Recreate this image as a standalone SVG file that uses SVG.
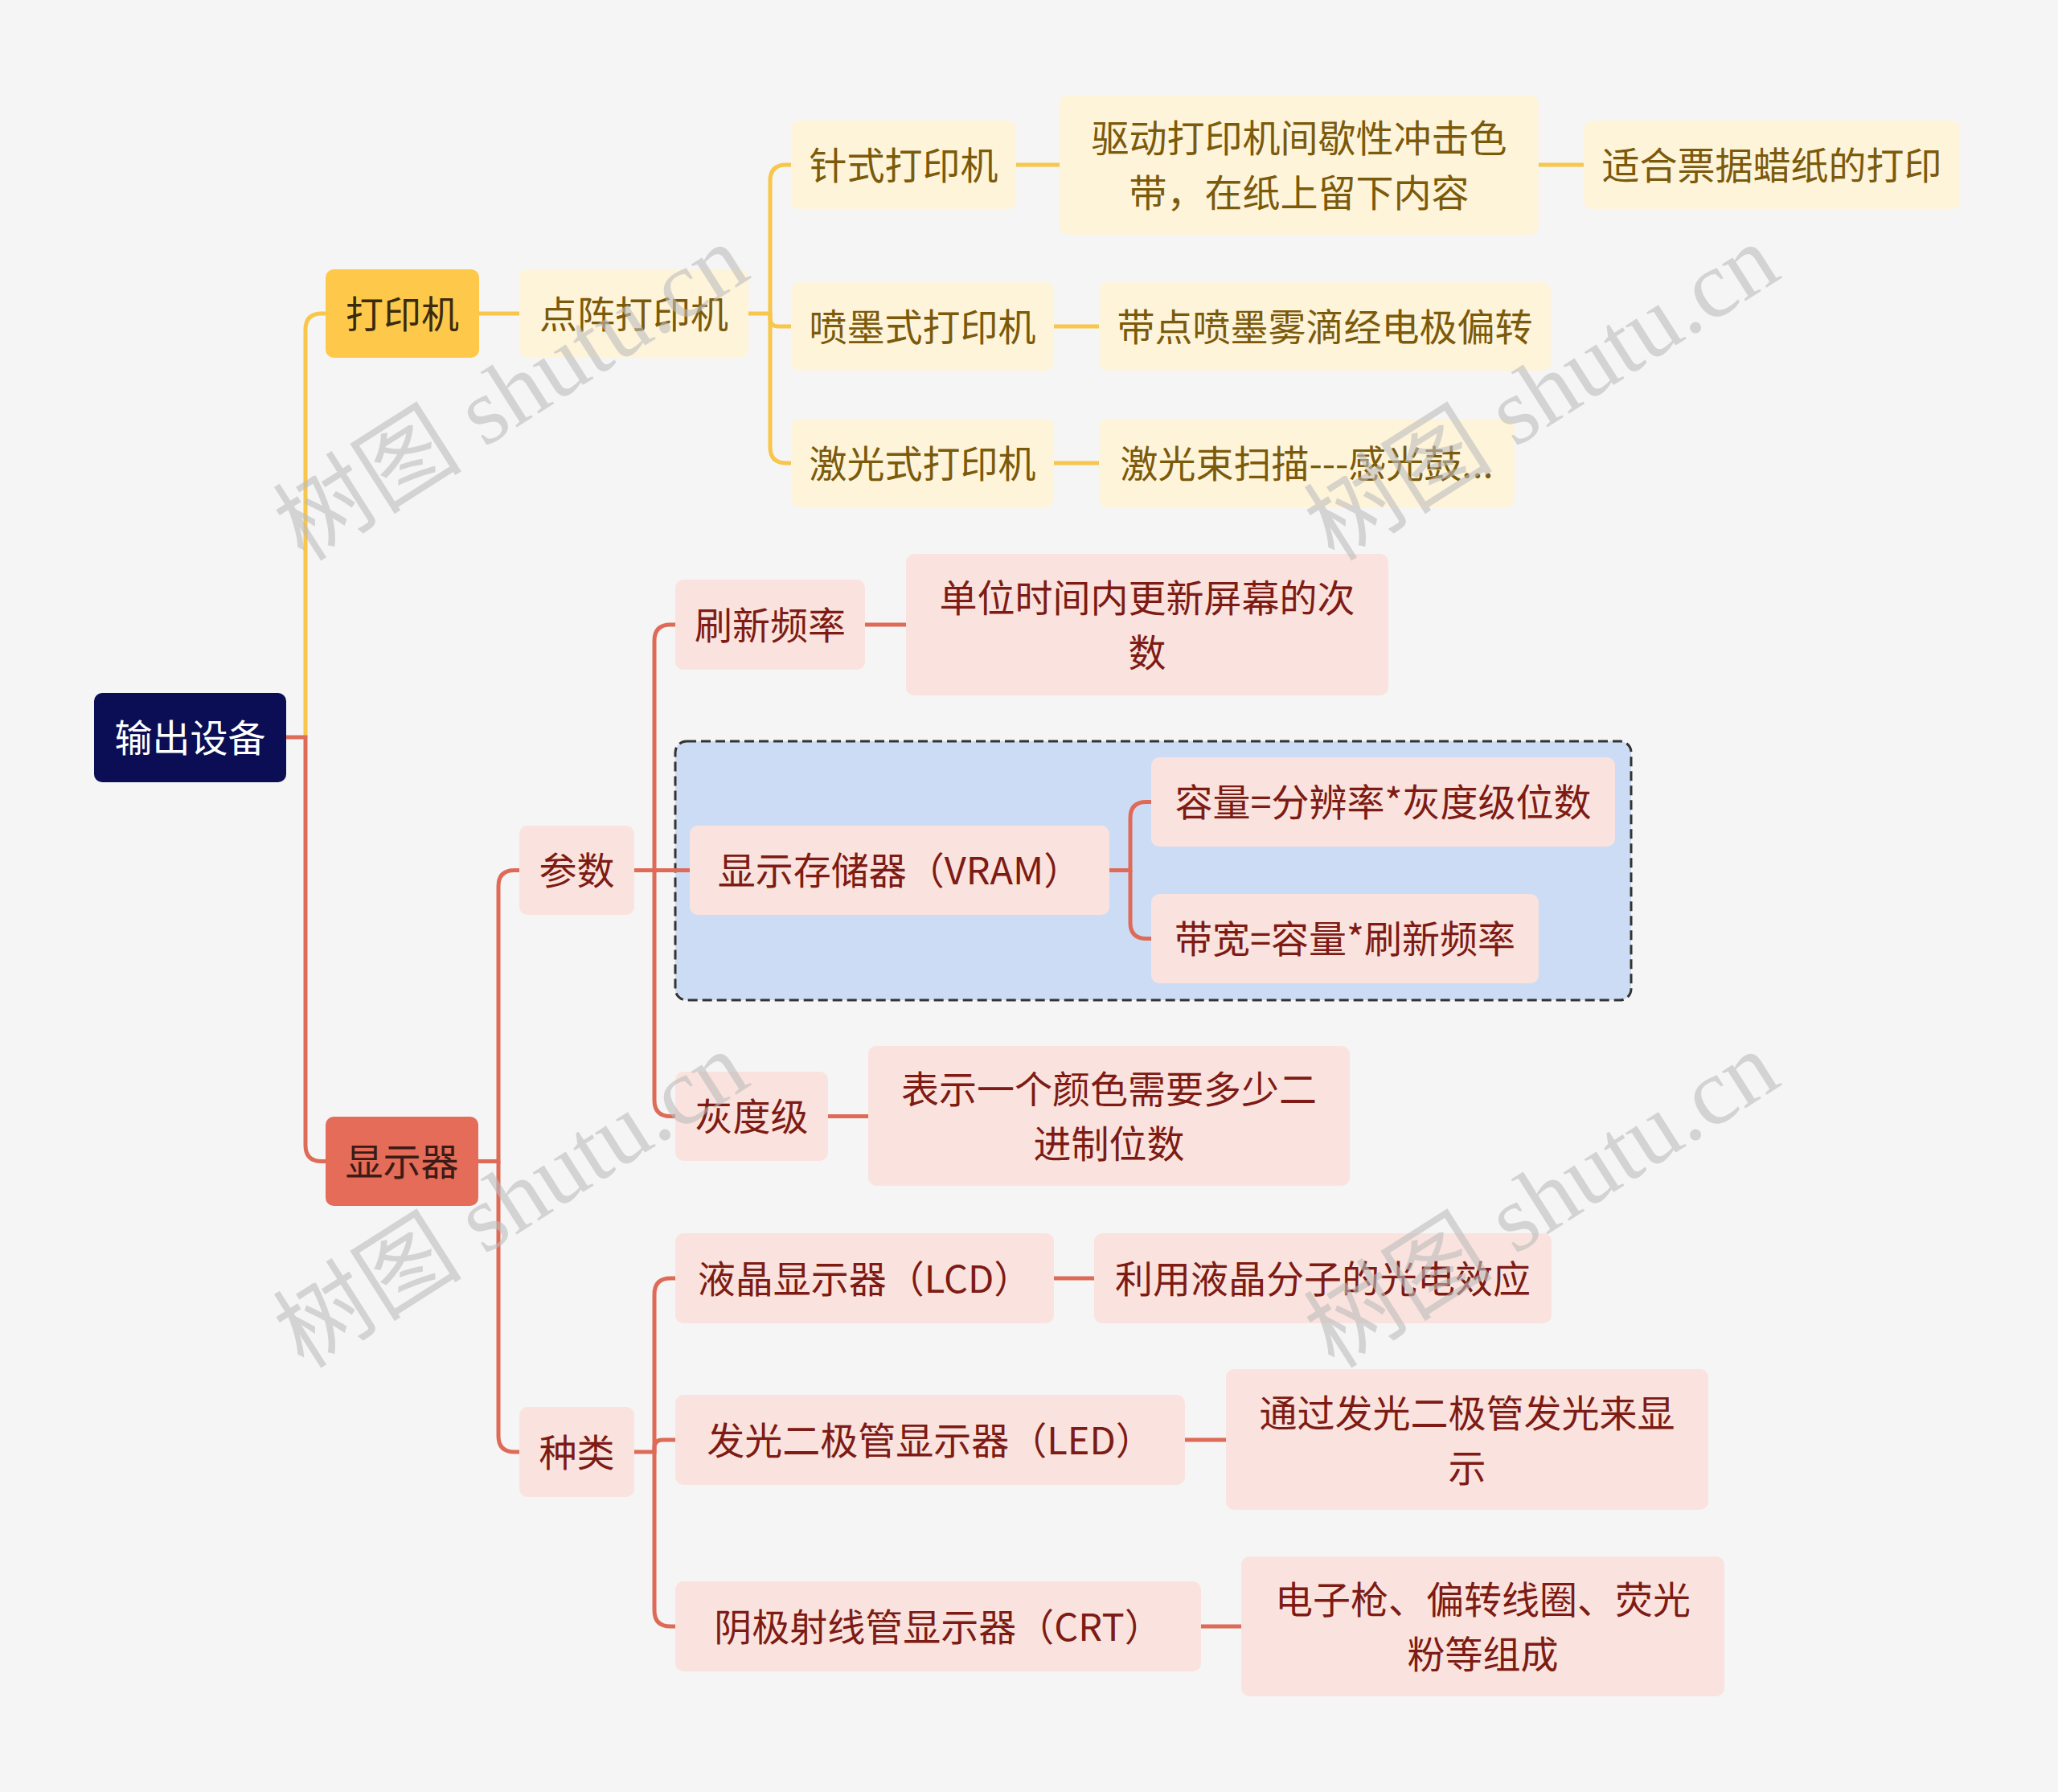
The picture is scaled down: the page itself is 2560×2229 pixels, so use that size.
<svg xmlns="http://www.w3.org/2000/svg" width="2560" height="2229" viewBox="0 0 2560 2229">
<style>
text{font-family:"Noto Sans CJK SC","Noto Sans",sans-serif;font-size:47px;text-anchor:middle;dominant-baseline:central}
g[id^="n-"] text{transform:translateY(-3px)}
.root rect{fill:#0b0e55}
.root text{fill:#ffffff}
.y1 rect{fill:#fec94b}
.y1 text{fill:#3b2b0e}
.y2 rect{fill:#fef4da}
.y2 text{fill:#7b5a0b}
.r1 rect{fill:#e46c58}
.r1 text{fill:#3b1b15}
.r2 rect{fill:#fae3de}
.r2 text{fill:#7d1b14}
.cy{fill:none;stroke:#f7c64b;stroke-width:5}
.cr{fill:none;stroke:#de6b58;stroke-width:5}
.wm{font-family:"Liberation Serif","Noto Sans CJK SC",serif;font-size:118px;fill:#bdbdbd;fill-opacity:0.6;text-anchor:start;dominant-baseline:alphabetic}
</style>
<rect width="2560" height="2229" fill="#f5f5f5"/>
<rect id="vram-group" x="840" y="922" width="1189" height="322" rx="14" fill="#cddcf5" stroke="#333" stroke-width="3" stroke-dasharray="12 6"/>
<g id="connectors">
<path class="cy" d="M380,917 L380,410 Q380,390 400,390 L405,390"/>
<path class="cr" d="M356,917 L380,917 L380,1424.5 Q380,1444.5 400,1444.5 L405,1444.5"/>
<path class="cy" d="M596,390 L646,390"/>
<path class="cy" d="M931,390 L958,390 L958,225 Q958,205 978,205 L984,205"/>
<path class="cy" d="M958,390 L958,396 Q958,406 968,406 L984,406"/>
<path class="cy" d="M958,390 L958,556 Q958,576 978,576 L984,576"/>
<path class="cy" d="M1264,205 L1318,205"/>
<path class="cy" d="M1914,205 L1970,205"/>
<path class="cy" d="M1311,406 L1367,406"/>
<path class="cy" d="M1311,576 L1367,576"/>
<path class="cr" d="M595,1444.5 L620,1444.5 L620,1102.5 Q620,1082.5 640,1082.5 L646,1082.5"/>
<path class="cr" d="M620,1444.5 L620,1786 Q620,1806 640,1806 L646,1806"/>
<path class="cr" d="M789,1082.5 L814,1082.5 L814,797 Q814,777 834,777 L840,777"/>
<path class="cr" d="M789,1082.5 L858,1082.5"/>
<path class="cr" d="M814,1082.5 L814,1368.5 Q814,1388.5 834,1388.5 L840,1388.5"/>
<path class="cr" d="M1076,777 L1127,777"/>
<path class="cr" d="M1380,1082.5 L1406,1082.5 L1406,1017.5 Q1406,997.5 1426,997.5 L1432,997.5"/>
<path class="cr" d="M1406,1082.5 L1406,1147.5 Q1406,1167.5 1426,1167.5 L1432,1167.5"/>
<path class="cr" d="M1030,1388.5 L1080,1388.5"/>
<path class="cr" d="M789,1806 L814,1806 L814,1610 Q814,1590 834,1590 L840,1590"/>
<path class="cr" d="M814,1806 L814,1801 Q814,1791 824,1791 L840,1791"/>
<path class="cr" d="M814,1806 L814,2003 Q814,2023 834,2023 L840,2023"/>
<path class="cr" d="M1311,1590 L1361,1590"/>
<path class="cr" d="M1474,1791 L1525,1791"/>
<path class="cr" d="M1494,2023 L1544,2023"/>
</g>
<g id="n-root" class="root"><rect x="117" y="862" width="239" height="111" rx="10"/><text x="236.5" y="917">输出设备</text></g>
<g id="n-printer" class="y1"><rect x="405" y="335" width="191" height="110" rx="10"/><text x="500.5" y="390">打印机</text></g>
<g id="n-dot" class="y2"><rect x="646" y="335" width="285" height="110" rx="10"/><text x="788.5" y="390">点阵打印机</text></g>
<g id="n-pin" class="y2"><rect x="984" y="150" width="280" height="110" rx="10"/><text x="1124" y="205">针式打印机</text></g>
<g id="n-pin-d" class="y2"><rect x="1318" y="118" width="596" height="174" rx="10"/><text x="1616" y="171">驱动打印机间歇性冲击色</text><text x="1616" y="239">带，在纸上留下内容</text></g>
<g id="n-pin-u" class="y2"><rect x="1970" y="150" width="468" height="110" rx="10"/><text x="2204" y="205">适合票据蜡纸的打印</text></g>
<g id="n-ink" class="y2"><rect x="984" y="351" width="327" height="110" rx="10"/><text x="1147.5" y="406">喷墨式打印机</text></g>
<g id="n-ink-d" class="y2"><rect x="1367" y="351" width="562" height="110" rx="10"/><text x="1648" y="406">带点喷墨雾滴经电极偏转</text></g>
<g id="n-laser" class="y2"><rect x="984" y="521" width="327" height="110" rx="10"/><text x="1147.5" y="576">激光式打印机</text></g>
<g id="n-laser-d" class="y2"><rect x="1367" y="521" width="517" height="110" rx="10"/><text x="1625.5" y="576">激光束扫描---感光鼓...</text></g>
<g id="n-display" class="r1"><rect x="405" y="1389" width="190" height="111" rx="10"/><text x="500" y="1444.5">显示器</text></g>
<g id="n-param" class="r2"><rect x="646" y="1027" width="143" height="111" rx="10"/><text x="717.5" y="1082.5">参数</text></g>
<g id="n-refresh" class="r2"><rect x="840" y="721" width="236" height="112" rx="10"/><text x="958" y="777">刷新频率</text></g>
<g id="n-refresh-d" class="r2"><rect x="1127" y="689" width="600" height="176" rx="10"/><text x="1427" y="743">单位时间内更新屏幕的次</text><text x="1427" y="811">数</text></g>
<g id="n-vram" class="r2"><rect x="858" y="1027" width="522" height="111" rx="10"/><text x="1119" y="1082.5">显示存储器（VRAM）</text></g>
<g id="n-cap" class="r2"><rect x="1432" y="942" width="577" height="111" rx="10"/><text x="1720.5" y="997.5">容量=分辨率*灰度级位数</text></g>
<g id="n-bw" class="r2"><rect x="1432" y="1112" width="482" height="111" rx="10"/><text x="1673" y="1167.5">带宽=容量*刷新频率</text></g>
<g id="n-gray" class="r2"><rect x="840" y="1333" width="190" height="111" rx="10"/><text x="935" y="1388.5">灰度级</text></g>
<g id="n-gray-d" class="r2"><rect x="1080" y="1301" width="599" height="174" rx="10"/><text x="1379.5" y="1354">表示一个颜色需要多少二</text><text x="1379.5" y="1422">进制位数</text></g>
<g id="n-kind" class="r2"><rect x="646" y="1750" width="143" height="112" rx="10"/><text x="717.5" y="1806">种类</text></g>
<g id="n-lcd" class="r2"><rect x="840" y="1534" width="471" height="112" rx="10"/><text x="1075.5" y="1590">液晶显示器（LCD）</text></g>
<g id="n-lcd-d" class="r2"><rect x="1361" y="1534" width="569" height="112" rx="10"/><text x="1645.5" y="1590">利用液晶分子的光电效应</text></g>
<g id="n-led" class="r2"><rect x="840" y="1735" width="634" height="112" rx="10"/><text x="1157" y="1791">发光二极管显示器（LED）</text></g>
<g id="n-led-d" class="r2"><rect x="1525" y="1703" width="600" height="175" rx="10"/><text x="1825" y="1757">通过发光二极管发光来显</text><text x="1825" y="1825">示</text></g>
<g id="n-crt" class="r2"><rect x="840" y="1967" width="654" height="112" rx="10"/><text x="1167" y="2023">阴极射线管显示器（CRT）</text></g>
<g id="n-crt-d" class="r2"><rect x="1544" y="1936" width="601" height="174" rx="10"/><text x="1844.5" y="1989">电子枪、偏转线圈、荧光</text><text x="1844.5" y="2057">粉等组成</text></g>
<g id="watermarks">
<text class="wm" transform="translate(378,700) rotate(-32.5)">树图 shutu.cn</text>
<text class="wm" transform="translate(1660,700) rotate(-32.5)">树图 shutu.cn</text>
<text class="wm" transform="translate(378,1704) rotate(-32.5)">树图 shutu.cn</text>
<text class="wm" transform="translate(1660,1704) rotate(-32.5)">树图 shutu.cn</text>
</g>
</svg>
